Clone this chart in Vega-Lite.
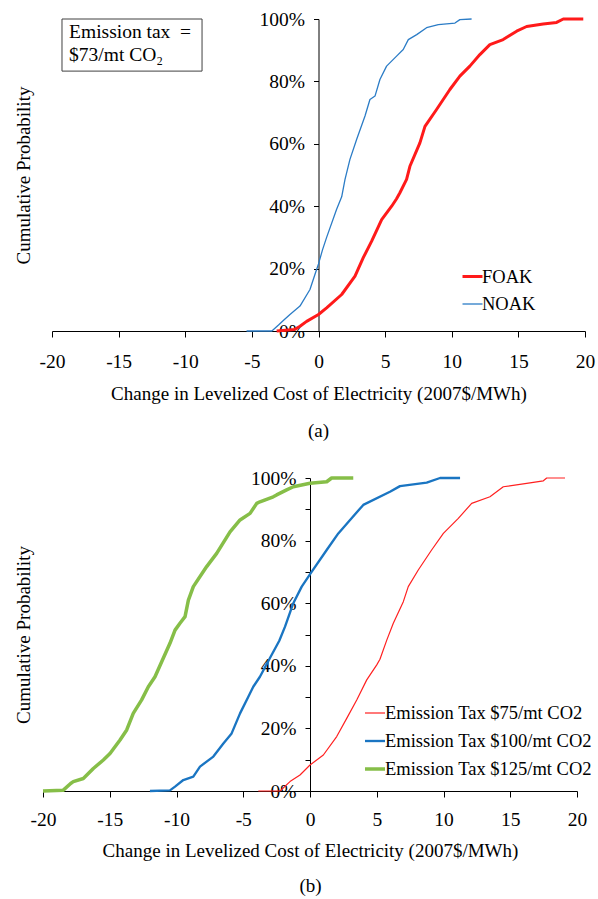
{
  "$schema": "https://vega.github.io/schema/vega-lite/v6.json",
  "padding": {"left": 14, "top": 9, "right": 2, "bottom": 2},
  "background": "white",
  "config": {
    "view": {"stroke": null},
    "font": "Liberation Serif",
    "axis": {"labelFont": "Liberation Serif", "titleFont": "Liberation Serif", "labelFontSize": 19.5, "titleFontSize": 19, "labelColor": "black", "titleColor": "black", "titleFontWeight": "normal", "domainColor": "black", "tickColor": "black", "grid": false, "domainWidth": 1, "tickWidth": 1},
    "legend": {"labelFont": "Liberation Serif", "labelFontSize": 18.5, "labelColor": "black", "symbolType": "stroke", "symbolSize": 400, "labelOffset": -2, "rowPadding": 7, "padding": 0, "labelLimit": 400},
    "title": {"font": "Liberation Serif", "fontSize": 19, "fontWeight": "normal", "color": "black"}
  },
  "datasets": {
    "cdfA": [
      {"series": "NOAK", "x": -5.4, "p": 0}, {"series": "NOAK", "x": -3.5, "p": 0}, {"series": "NOAK", "x": -3.0, "p": 0.019}, {"series": "NOAK", "x": -2.6, "p": 0.035}, {"series": "NOAK", "x": -2.14, "p": 0.053}, {"series": "NOAK", "x": -1.39, "p": 0.08}, {"series": "NOAK", "x": -0.64, "p": 0.133}, {"series": "NOAK", "x": -0.2, "p": 0.19}, {"series": "NOAK", "x": 0, "p": 0.215}, {"series": "NOAK", "x": 0.3, "p": 0.26}, {"series": "NOAK", "x": 0.61, "p": 0.3}, {"series": "NOAK", "x": 1.36, "p": 0.39}, {"series": "NOAK", "x": 1.74, "p": 0.43}, {"series": "NOAK", "x": 1.99, "p": 0.486}, {"series": "NOAK", "x": 2.36, "p": 0.55}, {"series": "NOAK", "x": 2.86, "p": 0.614}, {"series": "NOAK", "x": 3.49, "p": 0.689}, {"series": "NOAK", "x": 3.86, "p": 0.742}, {"series": "NOAK", "x": 4.24, "p": 0.753}, {"series": "NOAK", "x": 4.61, "p": 0.806}, {"series": "NOAK", "x": 5.11, "p": 0.849}, {"series": "NOAK", "x": 5.86, "p": 0.881}, {"series": "NOAK", "x": 6.36, "p": 0.902}, {"series": "NOAK", "x": 6.74, "p": 0.934}, {"series": "NOAK", "x": 7.37, "p": 0.95}, {"series": "NOAK", "x": 8.11, "p": 0.972}, {"series": "NOAK", "x": 8.99, "p": 0.982}, {"series": "NOAK", "x": 10.24, "p": 0.987}, {"series": "NOAK", "x": 10.61, "p": 0.998}, {"series": "NOAK", "x": 11.49, "p": 1.0},
      {"series": "FOAK", "x": -3.14, "p": 0}, {"series": "FOAK", "x": -1.8, "p": 0.005}, {"series": "FOAK", "x": -1.39, "p": 0.015}, {"series": "FOAK", "x": -0.89, "p": 0.031}, {"series": "FOAK", "x": 0, "p": 0.053}, {"series": "FOAK", "x": 0.61, "p": 0.074}, {"series": "FOAK", "x": 1.74, "p": 0.117}, {"series": "FOAK", "x": 2.74, "p": 0.176}, {"series": "FOAK", "x": 3.36, "p": 0.235}, {"series": "FOAK", "x": 3.99, "p": 0.288}, {"series": "FOAK", "x": 4.74, "p": 0.357}, {"series": "FOAK", "x": 5.49, "p": 0.4}, {"series": "FOAK", "x": 5.86, "p": 0.424}, {"series": "FOAK", "x": 6.11, "p": 0.443}, {"series": "FOAK", "x": 6.61, "p": 0.486}, {"series": "FOAK", "x": 6.86, "p": 0.528}, {"series": "FOAK", "x": 7.61, "p": 0.603}, {"series": "FOAK", "x": 7.99, "p": 0.656}, {"series": "FOAK", "x": 8.86, "p": 0.71}, {"series": "FOAK", "x": 9.86, "p": 0.774}, {"series": "FOAK", "x": 10.61, "p": 0.817}, {"series": "FOAK", "x": 11.36, "p": 0.849}, {"series": "FOAK", "x": 12.11, "p": 0.886}, {"series": "FOAK", "x": 12.86, "p": 0.918}, {"series": "FOAK", "x": 13.86, "p": 0.934}, {"series": "FOAK", "x": 14.87, "p": 0.961}, {"series": "FOAK", "x": 15.62, "p": 0.976}, {"series": "FOAK", "x": 16.86, "p": 0.984}, {"series": "FOAK", "x": 17.87, "p": 0.989}, {"series": "FOAK", "x": 18.37, "p": 1.0}, {"series": "FOAK", "x": 19.87, "p": 1.0}
    ],
    "cdfB": [
      {"series": "Emission Tax $75/mt CO2", "x": -3.87, "p": 0}, {"series": "Emission Tax $75/mt CO2", "x": -2.25, "p": 0}, {"series": "Emission Tax $75/mt CO2", "x": -1.5, "p": 0.03}, {"series": "Emission Tax $75/mt CO2", "x": -0.75, "p": 0.051}, {"series": "Emission Tax $75/mt CO2", "x": 0, "p": 0.083}, {"series": "Emission Tax $75/mt CO2", "x": 1.0, "p": 0.115}, {"series": "Emission Tax $75/mt CO2", "x": 2.0, "p": 0.174}, {"series": "Emission Tax $75/mt CO2", "x": 2.75, "p": 0.232}, {"series": "Emission Tax $75/mt CO2", "x": 3.5, "p": 0.291}, {"series": "Emission Tax $75/mt CO2", "x": 4.25, "p": 0.355}, {"series": "Emission Tax $75/mt CO2", "x": 5.0, "p": 0.403}, {"series": "Emission Tax $75/mt CO2", "x": 5.24, "p": 0.421}, {"series": "Emission Tax $75/mt CO2", "x": 5.75, "p": 0.482}, {"series": "Emission Tax $75/mt CO2", "x": 6.24, "p": 0.536}, {"series": "Emission Tax $75/mt CO2", "x": 6.99, "p": 0.605}, {"series": "Emission Tax $75/mt CO2", "x": 7.36, "p": 0.653}, {"series": "Emission Tax $75/mt CO2", "x": 8.11, "p": 0.706}, {"series": "Emission Tax $75/mt CO2", "x": 9.11, "p": 0.77}, {"series": "Emission Tax $75/mt CO2", "x": 9.99, "p": 0.823}, {"series": "Emission Tax $75/mt CO2", "x": 11.11, "p": 0.871}, {"series": "Emission Tax $75/mt CO2", "x": 12.11, "p": 0.919}, {"series": "Emission Tax $75/mt CO2", "x": 13.48, "p": 0.94}, {"series": "Emission Tax $75/mt CO2", "x": 14.48, "p": 0.972}, {"series": "Emission Tax $75/mt CO2", "x": 16.23, "p": 0.983}, {"series": "Emission Tax $75/mt CO2", "x": 17.48, "p": 0.991}, {"series": "Emission Tax $75/mt CO2", "x": 17.73, "p": 1.0}, {"series": "Emission Tax $75/mt CO2", "x": 19.1, "p": 1.0},
      {"series": "Emission Tax $100/mt CO2", "x": -11.99, "p": 0}, {"series": "Emission Tax $100/mt CO2", "x": -10.49, "p": 0.002}, {"series": "Emission Tax $100/mt CO2", "x": -10.11, "p": 0.014}, {"series": "Emission Tax $100/mt CO2", "x": -9.49, "p": 0.035}, {"series": "Emission Tax $100/mt CO2", "x": -8.74, "p": 0.046}, {"series": "Emission Tax $100/mt CO2", "x": -8.24, "p": 0.078}, {"series": "Emission Tax $100/mt CO2", "x": -7.24, "p": 0.11}, {"series": "Emission Tax $100/mt CO2", "x": -6.49, "p": 0.152}, {"series": "Emission Tax $100/mt CO2", "x": -5.87, "p": 0.184}, {"series": "Emission Tax $100/mt CO2", "x": -5.24, "p": 0.248}, {"series": "Emission Tax $100/mt CO2", "x": -4.62, "p": 0.301}, {"series": "Emission Tax $100/mt CO2", "x": -4.25, "p": 0.333}, {"series": "Emission Tax $100/mt CO2", "x": -3.75, "p": 0.365}, {"series": "Emission Tax $100/mt CO2", "x": -3.0, "p": 0.425}, {"series": "Emission Tax $100/mt CO2", "x": -2.3, "p": 0.48}, {"series": "Emission Tax $100/mt CO2", "x": -1.87, "p": 0.525}, {"series": "Emission Tax $100/mt CO2", "x": -1.25, "p": 0.6}, {"series": "Emission Tax $100/mt CO2", "x": -0.62, "p": 0.653}, {"series": "Emission Tax $100/mt CO2", "x": 0.12, "p": 0.7}, {"series": "Emission Tax $100/mt CO2", "x": 1.25, "p": 0.77}, {"series": "Emission Tax $100/mt CO2", "x": 2.12, "p": 0.823}, {"series": "Emission Tax $100/mt CO2", "x": 3.0, "p": 0.866}, {"series": "Emission Tax $100/mt CO2", "x": 3.99, "p": 0.914}, {"series": "Emission Tax $100/mt CO2", "x": 5.99, "p": 0.956}, {"series": "Emission Tax $100/mt CO2", "x": 6.74, "p": 0.974}, {"series": "Emission Tax $100/mt CO2", "x": 8.74, "p": 0.985}, {"series": "Emission Tax $100/mt CO2", "x": 9.74, "p": 1.0}, {"series": "Emission Tax $100/mt CO2", "x": 11.24, "p": 1.0},
      {"series": "Emission Tax $125/mt CO2", "x": -20, "p": 0}, {"series": "Emission Tax $125/mt CO2", "x": -18.5, "p": 0.002}, {"series": "Emission Tax $125/mt CO2", "x": -17.93, "p": 0.024}, {"series": "Emission Tax $125/mt CO2", "x": -17.73, "p": 0.03}, {"series": "Emission Tax $125/mt CO2", "x": -16.98, "p": 0.04}, {"series": "Emission Tax $125/mt CO2", "x": -16.23, "p": 0.072}, {"series": "Emission Tax $125/mt CO2", "x": -15.48, "p": 0.099}, {"series": "Emission Tax $125/mt CO2", "x": -14.98, "p": 0.12}, {"series": "Emission Tax $125/mt CO2", "x": -14.23, "p": 0.163}, {"series": "Emission Tax $125/mt CO2", "x": -13.73, "p": 0.195}, {"series": "Emission Tax $125/mt CO2", "x": -13.24, "p": 0.248}, {"series": "Emission Tax $125/mt CO2", "x": -12.61, "p": 0.291}, {"series": "Emission Tax $125/mt CO2", "x": -12.11, "p": 0.333}, {"series": "Emission Tax $125/mt CO2", "x": -11.61, "p": 0.365}, {"series": "Emission Tax $125/mt CO2", "x": -11.11, "p": 0.413}, {"series": "Emission Tax $125/mt CO2", "x": -10.49, "p": 0.472}, {"series": "Emission Tax $125/mt CO2", "x": -10.11, "p": 0.514}, {"series": "Emission Tax $125/mt CO2", "x": -9.74, "p": 0.536}, {"series": "Emission Tax $125/mt CO2", "x": -9.36, "p": 0.557}, {"series": "Emission Tax $125/mt CO2", "x": -9.11, "p": 0.61}, {"series": "Emission Tax $125/mt CO2", "x": -8.74, "p": 0.653}, {"series": "Emission Tax $125/mt CO2", "x": -7.74, "p": 0.717}, {"series": "Emission Tax $125/mt CO2", "x": -6.99, "p": 0.759}, {"series": "Emission Tax $125/mt CO2", "x": -5.99, "p": 0.828}, {"series": "Emission Tax $125/mt CO2", "x": -5.24, "p": 0.866}, {"series": "Emission Tax $125/mt CO2", "x": -4.49, "p": 0.887}, {"series": "Emission Tax $125/mt CO2", "x": -3.99, "p": 0.919}, {"series": "Emission Tax $125/mt CO2", "x": -3.75, "p": 0.924}, {"series": "Emission Tax $125/mt CO2", "x": -2.75, "p": 0.94}, {"series": "Emission Tax $125/mt CO2", "x": -2.5, "p": 0.946}, {"series": "Emission Tax $125/mt CO2", "x": -1.75, "p": 0.962}, {"series": "Emission Tax $125/mt CO2", "x": -1.25, "p": 0.972}, {"series": "Emission Tax $125/mt CO2", "x": 0, "p": 0.983}, {"series": "Emission Tax $125/mt CO2", "x": 1.25, "p": 0.988}, {"series": "Emission Tax $125/mt CO2", "x": 1.62, "p": 1.0}, {"series": "Emission Tax $125/mt CO2", "x": 3.24, "p": 1.0}
    ]
  },
  "resolve": {"scale": {"color": "independent", "strokeWidth": "independent"}, "legend": {"color": "independent", "strokeWidth": "independent"}},
  "columns": 1,
  "spacing": 27,
  "concat": [
    {
      "width": 533,
      "height": 312,
      "title": {"text": "(a)", "orient": "bottom", "anchor": "middle", "frame": "group", "offset": 18},
      "layer": [
        {
          "data": {"name": "cdfA"},
          "mark": {"type": "line", "strokeJoin": "round"},
          "encoding": {
            "x": {"field": "x", "type": "quantitative", "scale": {"domain": [-20, 20], "nice": false, "zero": false},
              "axis": {"title": "Change in Levelized Cost of Electricity (2007$/MWh)", "values": [-20, -15, -10, -5, 0, 5, 10, 15, 20], "labelExpr": "datum.value + ''", "tickSize": 6, "labelPadding": 15, "labelFlush": false, "labelOverlap": false, "titlePadding": 14}},
            "y": {"field": "p", "type": "quantitative", "scale": {"domain": [0, 1], "nice": false},
              "axis": {"title": "Cumulative Probability", "offset": -266.5, "values": [0, 0.1, 0.2, 0.3, 0.4, 0.5, 0.6, 0.7, 0.8, 0.9, 1], "labelExpr": "round(datum.value * 10) % 2 == 0 ? format(datum.value, '.0%') : ''", "tickSize": 5, "labelPadding": 9, "labelOverlap": false, "titleX": -285.5}},
            "color": {"field": "series", "type": "nominal", "scale": {"domain": ["FOAK", "NOAK"], "range": ["#FF1A1A", "#2B7CC6"]},
              "legend": {"orient": "none", "legendX": 409, "legendY": 246, "title": null, "encode": {"symbols": {"update": {"strokeWidth": {"signal": "datum.value === 'FOAK' ? 3 : 1.3"}}}}}},
            "strokeWidth": {"field": "series", "type": "ordinal", "scale": {"domain": ["FOAK", "NOAK"], "range": [3, 1.3]}, "legend": null}
          }
        },
        {
          "data": {"values": [{"note": "box"}]},
          "mark": {"type": "rect", "fill": "white", "stroke": "#404040", "strokeWidth": 1},
          "encoding": {"x": {"datum": -19.25, "type": "quantitative"}, "x2": {"datum": -8.74}, "y": {"datum": 1.0, "type": "quantitative"}, "y2": {"datum": 0.833}}
        },
        {
          "data": {"values": [{"note": "text"}]},
          "mark": {"type": "text", "text": ["Emission tax\u00a0 =", "$73/mt CO\u2082"], "align": "left", "baseline": "top", "fontSize": 19.5, "lineHeight": 23, "color": "black", "font": "Liberation Serif"},
          "encoding": {"x": {"datum": -18.72, "type": "quantitative"}, "y": {"datum": 0.987, "type": "quantitative"}}
        }
      ]
    },
    {
      "width": 533,
      "height": 313,
      "title": {"text": "(b)", "orient": "bottom", "anchor": "middle", "frame": "group", "offset": 16, "dx": -8},
      "layer": [
        {
          "data": {"name": "cdfB"},
          "mark": {"type": "line", "strokeJoin": "round"},
          "encoding": {
            "x": {"field": "x", "type": "quantitative", "scale": {"domain": [-20, 20], "range": [-9, 525], "nice": false, "zero": false},
              "axis": {"title": "Change in Levelized Cost of Electricity (2007$/MWh)", "values": [-20, -15, -10, -5, 0, 5, 10, 15, 20], "labelExpr": "datum.value + ''", "tickSize": 6, "labelPadding": 13, "labelFlush": false, "labelOverlap": false, "titlePadding": 13}},
            "y": {"field": "p", "type": "quantitative", "scale": {"domain": [0, 1], "nice": false},
              "axis": {"title": "Cumulative Probability", "offset": -258, "values": [0, 0.1, 0.2, 0.3, 0.4, 0.5, 0.6, 0.7, 0.8, 0.9, 1], "labelExpr": "round(datum.value * 10) % 2 == 0 ? format(datum.value, '.0%') : ''", "tickSize": 5, "labelPadding": 9, "labelOverlap": false, "titleX": -277}},
            "color": {"field": "series", "type": "nominal", "scale": {"domain": ["Emission Tax $75/mt CO2", "Emission Tax $100/mt CO2", "Emission Tax $125/mt CO2"], "range": ["#FF2020", "#1A75C2", "#86BE48"]},
              "legend": {"orient": "none", "legendX": 311, "legendY": 224, "title": null, "rowPadding": 6.5, "encode": {"symbols": {"update": {"strokeWidth": {"signal": "datum.value === 'Emission Tax $75/mt CO2' ? 1.2 : 3.5"}}}}}},
            "strokeWidth": {"field": "series", "type": "ordinal", "scale": {"domain": ["Emission Tax $75/mt CO2", "Emission Tax $100/mt CO2", "Emission Tax $125/mt CO2"], "range": [1.2, 3.5, 3.5]}, "legend": null}
          }
        }
      ]
    }
  ]
}
